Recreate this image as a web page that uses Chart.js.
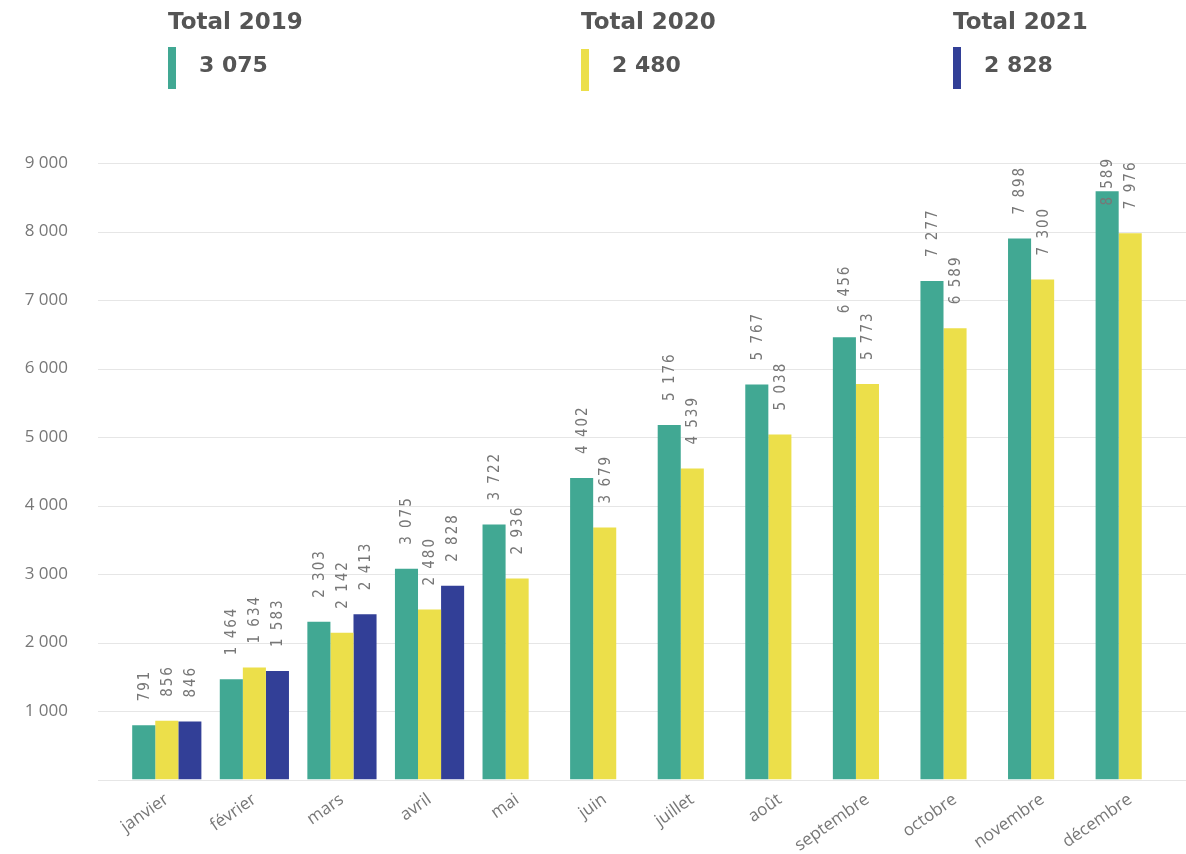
<!DOCTYPE html>
<html>
<head>
<meta charset="utf-8">
<script src="https://cdn.jsdelivr.net/npm/chart.js@4/dist/chart.umd.min.js"></script>
<style>
  html, body { margin: 0; padding: 0; background: #fff; }
  #wrap { position: relative; width: 1186px; height: 854px; overflow: hidden; }
  #chart-box { position: absolute; left: 0; top: 0; width: 1186px; height: 854px; }
  .kpi-title { position: absolute; font: bold 23px "DejaVu Sans", sans-serif; line-height: 23px; color: #555555; white-space: nowrap; }
  .kpi-value { position: absolute; font: bold 22px "DejaVu Sans", sans-serif; line-height: 22px; color: #555555; white-space: nowrap; }
  .kpi-bar { position: absolute; width: 8px; height: 42px; }
</style>
</head>
<body>
<div id="wrap">
  <div id="chart-box"><canvas id="chart"></canvas></div>
</div>
<script>
// months on the x axis
var months = ["janvier","février","mars","avril","mai","juin","juillet","août","septembre","octobre","novembre","décembre"];
// monthly cumulated values per year
var values2019 = [791, 1464, 2303, 3075, 3722, 4402, 5176, 5767, 6456, 7277, 7898, 8589];
var values2020 = [856, 1634, 2142, 2480, 2936, 3679, 4539, 5038, 5773, 6589, 7300, 7976];
var values2021 = [846, 1583, 2413, 2828, null, null, null, null, null, null, null, null];
// header cards
var totalYears = ["2019", "2020", "2021"];
var totalValues = [3075, 2480, 2828];
var yTicks = [1000, 2000, 3000, 4000, 5000, 6000, 7000, 8000, 9000];

var colors = ["#41a893", "#ecdf4a", "#323f97"];
var cardX = [168, 581, 953];

function fmt(v) {
  return String(v).replace(/\B(?=(\d{3})+(?!\d))/g, " ");
}

// header cards (html)
var wrap = document.getElementById("wrap");
for (var i = 0; i < totalYears.length; i++) {
  var t = document.createElement("div");
  t.className = "kpi-title";
  t.style.left = cardX[i] + "px";
  t.style.top = "10px";
  t.textContent = "Total " + totalYears[i];
  wrap.appendChild(t);
  var b = document.createElement("div");
  b.className = "kpi-bar";
  b.style.left = cardX[i] + "px";
  b.style.top = (i == 1 ? 49 : 47) + "px";
  b.style.background = colors[i];
  wrap.appendChild(b);
  var v = document.createElement("div");
  v.className = "kpi-value";
  v.style.left = (cardX[i] + 31) + "px";
  v.style.top = "54px";
  v.textContent = fmt(totalValues[i]);
  wrap.appendChild(v);
}

// horizontal grid lines, drawn from the y scale but wider than the plot area
var gridPlugin = {
  id: "wideGrid",
  beforeDatasetsDraw: function(chart) {
    var ctx = chart.ctx, y = chart.scales.y;
    ctx.save();
    ctx.strokeStyle = "#e6e6e6";
    ctx.lineWidth = 1;
    [0].concat(yTicks).forEach(function(val) {
      var py = Math.round(y.getPixelForValue(val)) + 0.5;
      ctx.beginPath();
      ctx.moveTo(98, py);
      ctx.lineTo(chart.width, py);
      ctx.stroke();
    });
    ctx.restore();
  }
};

// vertical value labels above the bars
var labelPlugin = {
  id: "barLabels",
  afterDatasetsDraw: function(chart) {
    var ctx = chart.ctx;
    var topLimit = chart.scales.y.getPixelForValue(9000) - 6;
    ctx.save();
    ctx.font = "15px 'DejaVu Sans Condensed', 'DejaVu Sans', sans-serif";
    ctx.letterSpacing = "2px";
    ctx.fillStyle = "#777777";
    ctx.textAlign = "left";
    ctx.textBaseline = "middle";
    chart.data.datasets.forEach(function(ds, di) {
      var meta = chart.getDatasetMeta(di);
      meta.data.forEach(function(bar, j) {
        var val = ds.data[j];
        if (val === null || val === undefined) return;
        var txt = fmt(val);
        var w = ctx.measureText(txt).width;
        var start = bar.y - 24;
        if (start - w < topLimit) start = topLimit + w;
        ctx.save();
        ctx.translate(bar.x + 1, start);
        ctx.rotate(-Math.PI / 2);
        ctx.fillText(txt, 0, 0);
        ctx.restore();
      });
    });
    ctx.restore();
  }
};

new Chart(document.getElementById("chart"), {
  type: "bar",
  data: {
    labels: months,
    datasets: [
      { label: "2019", data: values2019, backgroundColor: colors[0] },
      { label: "2020", data: values2020, backgroundColor: colors[1] },
      { label: "2021", data: values2021, backgroundColor: colors[2] }
    ]
  },
  options: {
    responsive: true,
    maintainAspectRatio: false,
    animation: false,
    layout: { padding: { top: 163, right: 12, left: 0, bottom: 0 } },
    datasets: { bar: { categoryPercentage: 0.79, barPercentage: 1.0 } },
    plugins: { legend: { display: false }, tooltip: { enabled: false } },
    scales: {
      x: {
        grid: { display: false },
        border: { display: false },
        ticks: {
          color: "#777777",
          font: { family: "'Open Sans', sans-serif", size: 17 },
          minRotation: 35,
          maxRotation: 35,
          padding: 2,
          autoSkip: false
        },
        afterFit: function(s) { s.height = 74.5; }
      },
      y: {
        min: 0,
        max: 9000,
        grid: { display: false },
        border: { display: false },
        afterBuildTicks: function(s) { s.ticks = [0].concat(yTicks).map(function(v) { return { value: v }; }); },
        ticks: {
          color: "#777777",
          font: { family: "'Open Sans', sans-serif", size: 17 },
          padding: 47,
          callback: function(v) { return v === 0 ? "" : fmt(v); }
        },
        afterFit: function(s) { s.width = 123; }
      }
    }
  },
  plugins: [gridPlugin, labelPlugin]
});
</script>
</body>
</html>
